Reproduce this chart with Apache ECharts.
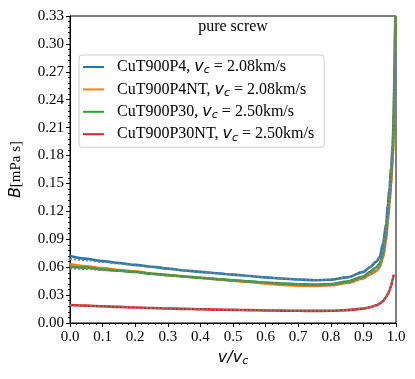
<!DOCTYPE html>
<html>
<head>
<meta charset="utf-8">
<script src="https://cdn.jsdelivr.net/npm/echarts@6/dist/echarts.min.js"></script>
<style>
  html, body { margin: 0; padding: 0; background: #fff; }
  #chartB { width: 415px; height: 379px; }
</style>
</head>
<body>
<div id="chartB"></div>
<script>
/* B(v/vc) for pure screw — measured curves + dotted fits */

// ---- data ----
var vRatio   = [0, 0.05, 0.1, 0.15, 0.2, 0.25, 0.3, 0.35, 0.4, 0.45, 0.5, 0.55, 0.6, 0.65, 0.7, 0.75, 0.8, 0.85, 0.9, 0.92, 0.94, 0.95, 0.96, 0.97, 0.975, 0.98, 0.985, 0.99, 0.993, 0.996, 0.998];

var bP4      = [0.072, 0.069, 0.0665, 0.0645, 0.0625, 0.0605, 0.0585, 0.0565, 0.055, 0.0535, 0.052, 0.0505, 0.049, 0.0478, 0.0467, 0.046, 0.0465, 0.049, 0.055, 0.06, 0.066, 0.071, 0.085, 0.107, 0.128, 0.145, 0.168, 0.192, 0.225, 0.28, 0.33];
var bP4NT    = [0.063, 0.061, 0.059, 0.057, 0.0555, 0.053, 0.0515, 0.05, 0.0485, 0.047, 0.0455, 0.044, 0.0425, 0.041, 0.0402, 0.0398, 0.0405, 0.043, 0.048, 0.052, 0.056, 0.06, 0.07, 0.09, 0.11, 0.128, 0.15, 0.178, 0.21, 0.27, 0.33];
var bP30     = [0.0605, 0.0595, 0.0575, 0.0562, 0.0548, 0.053, 0.0515, 0.05, 0.0487, 0.0472, 0.046, 0.0447, 0.0435, 0.0425, 0.0417, 0.0413, 0.0418, 0.0445, 0.05, 0.055, 0.06, 0.064, 0.074, 0.095, 0.115, 0.133, 0.156, 0.183, 0.215, 0.275, 0.33];
var bP30NT   = [0.0193, 0.0187, 0.018, 0.0173, 0.0167, 0.0161, 0.0156, 0.0152, 0.0148, 0.0144, 0.0141, 0.0138, 0.0135, 0.0133, 0.0131, 0.013, 0.0131, 0.0138, 0.0155, 0.017, 0.019, 0.021, 0.0235, 0.028, 0.031, 0.035, 0.04, 0.047, 0.052, null, null];

// fits (grey dotted)
var fitP4    = [0.069, 0.0672, 0.0655, 0.0638, 0.062, 0.0602, 0.0584, 0.0566, 0.055, 0.0535, 0.052, 0.0505, 0.049, 0.0478, 0.0468, 0.0462, 0.0466, 0.049, 0.0548, 0.0598, 0.0658, 0.0705, 0.084, 0.106, 0.127, 0.145, 0.168, 0.193, 0.226, 0.28, 0.33];
var fitP4NT  = [0.061, 0.0598, 0.0585, 0.0568, 0.0553, 0.0532, 0.0516, 0.05, 0.0485, 0.047, 0.0455, 0.0441, 0.0427, 0.0413, 0.0404, 0.04, 0.0406, 0.043, 0.0478, 0.0518, 0.0558, 0.0598, 0.0698, 0.089, 0.109, 0.127, 0.149, 0.177, 0.21, 0.27, 0.33];
var fitP30   = [0.0585, 0.058, 0.0568, 0.0558, 0.0546, 0.053, 0.0515, 0.05, 0.0487, 0.0473, 0.0461, 0.0448, 0.0436, 0.0426, 0.0418, 0.0414, 0.0419, 0.0445, 0.0498, 0.0548, 0.0598, 0.0638, 0.0738, 0.094, 0.114, 0.132, 0.155, 0.182, 0.214, 0.274, 0.33];
var fitP30NT = [0.0188, 0.0185, 0.0179, 0.0173, 0.0167, 0.0161, 0.0156, 0.0152, 0.0148, 0.0144, 0.0141, 0.0138, 0.0135, 0.0133, 0.0131, 0.013, 0.0131, 0.0138, 0.0154, 0.0169, 0.0189, 0.0209, 0.0234, 0.028, 0.031, 0.035, 0.0402, 0.0472, 0.0522, null, null];

var seriesNames  = ["CuT900P4", "CuT900P4NT", "CuT900P30", "CuT900P30NT"];
var seriesVc     = ["2.08", "2.08", "2.50", "2.50"];
var seriesColors = ["#1f77b4", "#ff7f0e", "#2ca02c", "#d62728"];

var SERIF = "'Liberation Serif', 'Times New Roman', serif";
var MATH  = "'DejaVu Sans', sans-serif";

function _pairs(ys) {
  return vRatio.map(function(v, i) { return [v, ys[i]]; });
}

function _curve(name, ys, color) {
  return {
    name: name, type: "line", data: _pairs(ys),
    showSymbol: false, smooth: 0.3, smoothMonotone: "x", connectNulls: false,
    lineStyle: { color: color, width: 2.6 }, itemStyle: { color: color },
    z: 2,
  };
}

function _fit(ys) {
  return {
    type: "line", data: _pairs(ys),
    showSymbol: false, smooth: 0.3, smoothMonotone: "x", silent: true,
    lineStyle: { color: "#7f7f7f", width: 1.8, type: [2, 2] },
    z: 3,
  };
}

// ---- chart ----
var chart = echarts.init(document.getElementById("chartB"), null, { renderer: "canvas" });

var option = {
  animation: false,
  backgroundColor: "#fff",
  title: {
    text: "pure screw",
    left: 233, top: 19, textAlign: "center", padding: 0,
    textStyle: { fontFamily: SERIF, fontSize: 16, fontWeight: "normal", color: "#000" },
  },
  grid: {
    left: 70, right: 19, top: 16, bottom: 56,
    show: true, borderColor: "#000", borderWidth: 1,
  },
  legend: {
    orient: "vertical", left: 79, top: 55,
    padding: [3, 10, 4, 4],
    backgroundColor: "rgba(255,255,255,0.8)",
    borderColor: "#cccccc", borderWidth: 1, borderRadius: 3,
    itemWidth: 21, itemHeight: 2, itemGap: 4.4,
    icon: "rect",
    data: seriesNames,
    formatter: function(name) {
      var i = seriesNames.indexOf(name);
      return "{n|" + name + ", }{v|v}{s|c}{n| = " + seriesVc[i] + "km/s}";
    },
    textStyle: {
      padding: [0, 0, 0, 8],
      rich: {
        n: { fontFamily: SERIF, fontSize: 16, color: "#000", lineHeight: 18 },
        v: { fontFamily: MATH, fontStyle: "italic", fontSize: 16, color: "#000", lineHeight: 18 },
        s: { fontFamily: MATH, fontStyle: "italic", fontSize: 11, color: "#000", lineHeight: 18, padding: [7, 0, 0, 0] },
      },
    },
  },
  xAxis: {
    type: "value", min: 0, max: 1, interval: 0.1,
    name: "{v|v/v}{s|c}", nameLocation: "middle", nameGap: 24,
    nameTextStyle: {
      rich: {
        v: { fontFamily: MATH, fontStyle: "italic", fontSize: 16, color: "#000" },
        s: { fontFamily: MATH, fontStyle: "italic", fontSize: 11, color: "#000", padding: [7, 0, 0, 0] },
      },
    },
    axisLine: { lineStyle: { color: "#000", width: 1 } },
    axisTick: { length: 4, lineStyle: { color: "#000" } },
    minorTick: { show: true, splitNumber: 5, length: 2, lineStyle: { color: "#000" } },
    splitLine: { show: false },
    axisLabel: {
      fontFamily: SERIF, fontSize: 15, color: "#000", margin: 7,
      formatter: function(v) { return v.toFixed(1); },
    },
  },
  yAxis: {
    type: "value", min: 0, max: 0.33, interval: 0.03,
    name: "{b|B}{u|[mPa s]}", nameLocation: "middle", nameGap: 46, nameRotate: 90,
    nameTextStyle: {
      rich: {
        b: { fontFamily: MATH, fontStyle: "italic", fontSize: 16, color: "#000" },
        u: { fontFamily: SERIF, fontSize: 15, color: "#000" },
      },
    },
    axisLine: { show: true, lineStyle: { color: "#000", width: 1 } },
    axisTick: { show: true, length: 4, lineStyle: { color: "#000" } },
    minorTick: { show: true, splitNumber: 5, length: 2, lineStyle: { color: "#000" } },
    splitLine: { show: false },
    axisLabel: {
      fontFamily: SERIF, fontSize: 15, color: "#000", margin: 6,
      formatter: function(v) { return v.toFixed(2); },
    },
  },
  series: [
    _curve(seriesNames[0], bP4, seriesColors[0]),
    _curve(seriesNames[1], bP4NT, seriesColors[1]),
    _curve(seriesNames[2], bP30, seriesColors[2]),
    _curve(seriesNames[3], bP30NT, seriesColors[3]),
    _fit(fitP4),
    _fit(fitP4NT),
    _fit(fitP30),
    _fit(fitP30NT),
  ],
};

chart.setOption(option);
</script>
</body>
</html>
